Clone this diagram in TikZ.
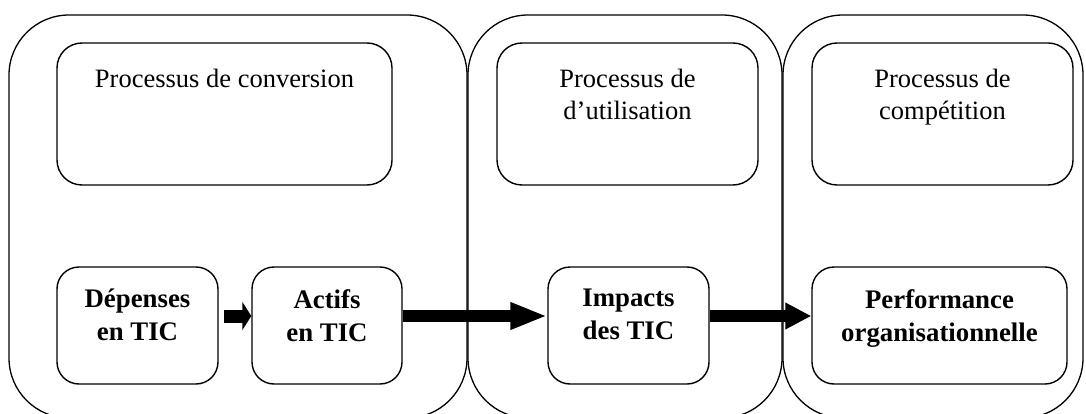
\documentclass[tikz,border=0pt]{standalone}
\usepackage{fontspec}
\setmainfont{Liberation Serif}
\usetikzlibrary{arrows.meta}
\tikzset{
  stage/.style={draw, line width=1.3pt, rounded corners=60pt, inner sep=0pt},
  topbox/.style={draw, line width=1.4pt, rounded corners=25pt, inner sep=0pt,
    minimum height=142pt},
  itembox/.style={draw, line width=1.4pt, rounded corners=22pt, inner sep=0pt,
    minimum height=117pt},
  caption/.style={font=\fontsize{26.5}{32}\selectfont, align=center, inner sep=0pt, anchor=north},
  itemtext/.style={font=\fontsize{26.8}{33}\selectfont\bfseries, align=center, inner sep=0pt, anchor=north},
  flow/.style={line width=12pt, -{Triangle[length=37pt,width=25pt]}},
}
\begin{document}
\begin{tikzpicture}[x=1pt,y=-1pt]
\useasboundingbox (0,0) rectangle (1086,414);

% three process stages
\node[stage, minimum width=458pt, minimum height=403pt] (s1) at (238,216.5) {};
\node[stage, minimum width=314pt, minimum height=403pt] (s2) at (625,216.5) {};
\node[stage, minimum width=300pt, minimum height=403pt] (s3) at (933,216.5) {};

% process headers
\node[topbox, minimum width=335pt] (p1) at (224.5,114) {};
\node[topbox, minimum width=261pt] (p2) at (627.5,114) {};
\node[topbox, minimum width=261pt] (p3) at (942.5,114) {};
\node[caption] (p1t) at (p1.center |- 0,69) {Processus de conversion};
\node[caption] (p2t) at (p2.center |- 0,69) {Processus de\\d’utilisation};
\node[caption] (p3t) at (p3.center |- 0,69) {Processus de\\compétition};

% chain of results
\node[itembox, minimum width=161pt] (dep) at (137.5,325.5) {};
\node[itembox, minimum width=150pt] (act) at (327,325.5) {};
\node[itembox, minimum width=161pt] (imp) at (628.5,325.5) {};
\node[itembox, minimum width=255pt] (perf) at (939.5,325.5) {};
\node[itemtext] (dept) at (dep.center |- 0,289) {Dépenses\\en TIC};
\node[itemtext] (actt) at (act.center |- 0,289) {Actifs\\en TIC};
\node[itemtext] (impt) at (imp.center |- 0,289) {Impacts\\des TIC};
\node[itemtext] (perft) at (perf.center |- 0,289) {Performance\\organisationnelle};

% arrows between results
\coordinate (ay) at (0,316);
\draw[line width=13pt, -{Triangle[length=9pt,width=28pt]}]
  ([xshift=5pt]dep.east |- ay) -- (act.west |- ay);
\draw[flow] (act.east |- ay) -- (imp.west |- ay);
\draw[flow, -{Triangle[length=26pt,width=25pt]}] (imp.east |- ay) -- (perf.west |- ay);
\end{tikzpicture}
\end{document}
